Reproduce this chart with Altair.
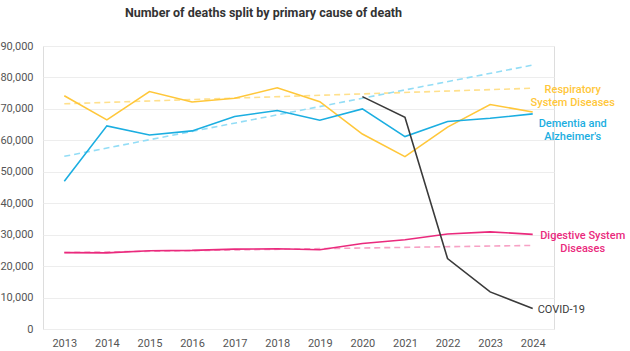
import altair as alt
import pandas as pd

years = list(range(2013, 2025))
respiratory = [74200, 66500, 75500, 72200, 73400, 76700, 72300, 62000, 54800, 64200, 71400, 69000]
dementia = [47000, 64600, 61700, 63000, 67600, 69500, 66400, 70000, 61200, 66000, 67000, 68400]
digestive = [24300, 24200, 24900, 25000, 25400, 25500, 25200, 27200, 28400, 30200, 30900, 30100]
covid_years = [2020, 2021, 2022, 2023, 2024]
covid = [73900, 67300, 22400, 11800, 6500]

series_names = ["Respiratory System Diseases", "Dementia and Alzheimer's", "Digestive System Diseases", "COVID-19"]
line_colors = ["#FFC73A", "#1BAEE1", "#EA2A7D", "#3A3A3A"]
trend_colors = ["#FFE08C", "#93DDF6", "#F7A1C5"]

label_lines = [["Respiratory", "System Diseases"], ["Dementia and", "Alzheimer's"], ["Digestive System", "Diseases"], ["COVID-19"]]
label_values = [75900, 65100, 29500, 5900]

rows = []
for name, vals in zip(series_names[:3], [respiratory, dementia, digestive]):
    for y, v in zip(years, vals):
        rows.append({"year": y, "value": v, "series": name})
for y, v in zip(covid_years, covid):
    rows.append({"year": y, "value": v, "series": "COVID-19"})
df = pd.DataFrame(rows)

lab = pd.DataFrame({"series": series_names, "text": label_lines, "value": label_values,
                    "year": [2024] * 4})

font = "Roboto"
x = alt.X("year:Q", scale=alt.Scale(domain=[2012.5, 2024.5], nice=False, zero=False),
          axis=alt.Axis(values=years, format="d", title=None, grid=False, domain=False, ticks=False,
                        labelColor="#555555", labelFontSize=11, labelPadding=8, labelFont=font,
                        labelOverlap=False))
y = alt.Y("value:Q", scale=alt.Scale(domain=[0, 90000], nice=False),
          axis=alt.Axis(values=list(range(0, 90001, 10000)), format=",d", title=None, domain=False,
                        ticks=False, gridColor="#EDEDED", gridWidth=1, labelColor="#555555",
                        labelFontSize=11, labelPadding=10, labelFont=font, labelOverlap=False))

color = alt.Color("series:N", scale=alt.Scale(domain=series_names, range=line_colors), legend=None)

lines = alt.Chart(df).mark_line(strokeWidth=1.6).encode(x=x, y=y, color=color, detail="series:N")

trend = alt.Chart(df).transform_filter(
    (alt.datum.year <= 2019) & (alt.datum.series != "COVID-19")
).transform_regression("year", "value", groupby=["series"], extent=[2013, 2024]).mark_line(
    strokeWidth=1.6, strokeDash=[6, 4]
).encode(
    x=x, y=y,
    color=alt.Color("series:N", scale=alt.Scale(domain=series_names[:3], range=trend_colors), legend=None),
    detail="series:N",
)

def label_layer(i, dx, align):
    return alt.Chart(lab.iloc[[i]]).mark_text(
        align=align, baseline="middle", dx=dx, fontSize=11, font=font, lineHeight=12.5,
        color=line_colors[i], fontWeight=500 if i < 3 else 400,
    ).encode(x=x, y=y, text="text")

labels = [label_layer(0, 40, "center"), label_layer(1, 40, "center"),
          label_layer(2, 50, "center"), label_layer(3, 5, "left")]

chart = alt.layer(trend, lines, *labels).resolve_scale(color="independent").properties(
    width=511, height=283,
    title=alt.TitleParams("Number of deaths split by primary cause of death", fontSize=12.5,
                          fontWeight="bold", color="#333333", font=font, anchor="middle",
                          offset=21, dx=-35),
    autosize=alt.AutoSizeParams(type="none"),
    padding={"left": 43, "top": 46, "right": 76, "bottom": 22},
).configure_view(stroke=None).configure(background="white")

chart.save("out.html", embed_options={"renderer": "svg", "actions": False})
